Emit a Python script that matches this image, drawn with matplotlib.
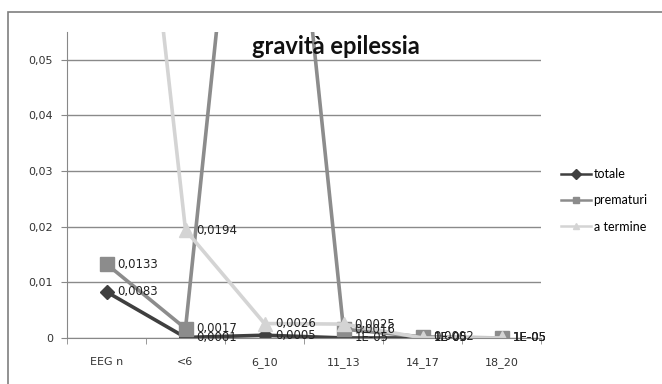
import numpy as np
import matplotlib.pyplot as plt
from matplotlib.patches import Rectangle

categories = ['EEG n', '<6', '6_10', '11_13', '14_17', '18_20']
totale = [0.0083, 0.0001, 0.0005, 0.00001, 0.00001, 0.00001]
prematuri = [0.0133, 0.0017, 0.138, 0.0016, 0.0002, 0.00001]
a_termine = [0.147, 0.0194, 0.0026, 0.0025, 0.00001, 0.00001]

yticks = [0, 0.01, 0.02, 0.03, 0.04, 0.05]
ytick_labels = ['0', '0,01', '0,02', '0,03', '0,04', '0,05']


def fmt(v):
    if v < 0.0001:
        return '1E-05'
    return ('%.4f' % v).replace('.', ',')


fig = plt.figure(figsize=(6.62, 3.84), dpi=100)
ax = fig.add_axes([67/662, 1 - 338/384, 474/662, 306/384])

# chart area border (runs off the image on right/bottom like the original)
fig.patches.append(Rectangle((8/662, -0.05), 1.0, 1 - 12/384 + 0.05,
                             transform=fig.transFigure, fill=False,
                             edgecolor='#7f7f7f', linewidth=1.2))

x = np.arange(len(categories))
series = [
    ('totale', totale, '#3f3f3f', 'D', 7.5),
    ('prematuri', prematuri, '#8c8c8c', 's', 10),
    ('a termine', a_termine, '#d4d4d4', '^', 10),
]
ymax = 0.055
for name, vals, col, mk, ms in series:
    ax.plot(x, vals, color=col, linewidth=2.6, marker=mk, markersize=ms,
            markeredgecolor=col, label=name)
    for xi, v in zip(x, vals):
        if v > ymax:
            continue
        ax.annotate(fmt(v), (xi, v), xytext=(8, 0), textcoords='offset points',
                    ha='left', va='center', fontsize=8.5, color='#222222',
                    annotation_clip=False, clip_on=False)

ax.set_xlim(-0.5, len(categories) - 0.5)
ax.set_ylim(0, ymax)
ax.set_yticks(yticks)
ax.set_yticklabels(ytick_labels, fontsize=8, color='#333333')
ax.set_xticks(x)
ax.set_xticklabels(categories, fontsize=8, color='#333333')
ax.set_xticks(np.arange(len(categories) + 1) - 0.5, minor=True)
ax.tick_params(axis='x', which='major', length=0, pad=14)
ax.tick_params(axis='x', which='minor', length=4, color='#888888')
ax.tick_params(axis='y', length=4, color='#888888', pad=6)
ax.yaxis.grid(True, color='#8a8a8a', linewidth=1.0)
ax.set_axisbelow(True)
for s in ['top', 'right']:
    ax.spines[s].set_visible(False)
ax.spines['left'].set_color('#888888')
ax.spines['bottom'].set_color('#888888')

fig.text(336/662, 1 - 47/384, 'gravità epilessia', ha='center', va='center',
         fontsize=17, fontweight='bold', family='Lato', color='#111111')

leg = fig.legend(loc='upper left', bbox_to_anchor=(561/662, 1 - 168/384),
                 frameon=False, prop={'family': 'Lato', 'size': 9},
                 handlelength=2.4, labelspacing=1.15, handletextpad=0.2,
                 borderpad=0, borderaxespad=0)
for h in leg.legend_handles:
    h.set_markersize(5)
    h.set_linewidth(1.8)

fig.savefig('out.png', dpi=100)
